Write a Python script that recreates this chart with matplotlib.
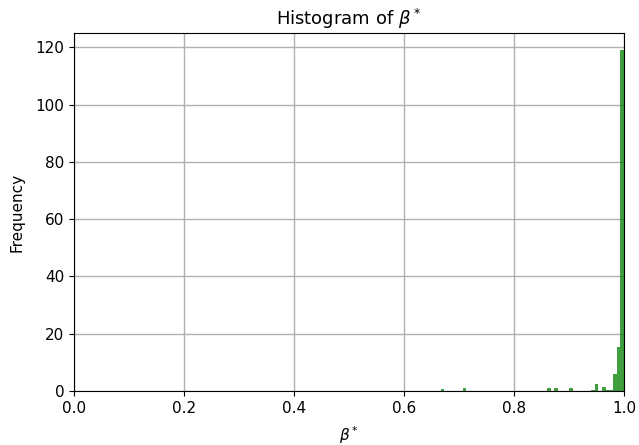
import numpy as np
import matplotlib
matplotlib.use('Agg')
import matplotlib.pyplot as plt

# histogram: 150 bins over [0, 1]
bin_index = [100, 106, 129, 131, 135, 141, 142, 144, 145, 146, 147, 148, 149]
counts = [0.6, 1.0, 1.0, 1.0, 1.0, 0.3, 2.5, 1.5, 0.5, 0.5, 6.0, 15.5, 119.0]

edges = np.linspace(0, 1, 151)
centers = (edges[:-1] + edges[1:]) / 2
weights = np.zeros(150)
weights[bin_index] = counts

fig = plt.figure(figsize=(6.39, 4.45), dpi=100)
ax = fig.add_axes([0.1158, 0.1213, 0.8607, 0.8045])
ax.hist(centers, bins=edges, weights=weights, color='g', alpha=0.75)
ax.set_xlim(0, 1)
ax.set_title(r'Histogram of $\beta^*$', fontsize=13)
ax.set_xlabel(r'$\beta^*$', fontsize=11, labelpad=6)
ax.set_ylabel('Frequency', fontsize=11, labelpad=8)
ax.tick_params(labelsize=11)
ax.grid(True, linewidth=1)
ax.set_axisbelow(True)
fig.savefig('out.png', dpi=100)
